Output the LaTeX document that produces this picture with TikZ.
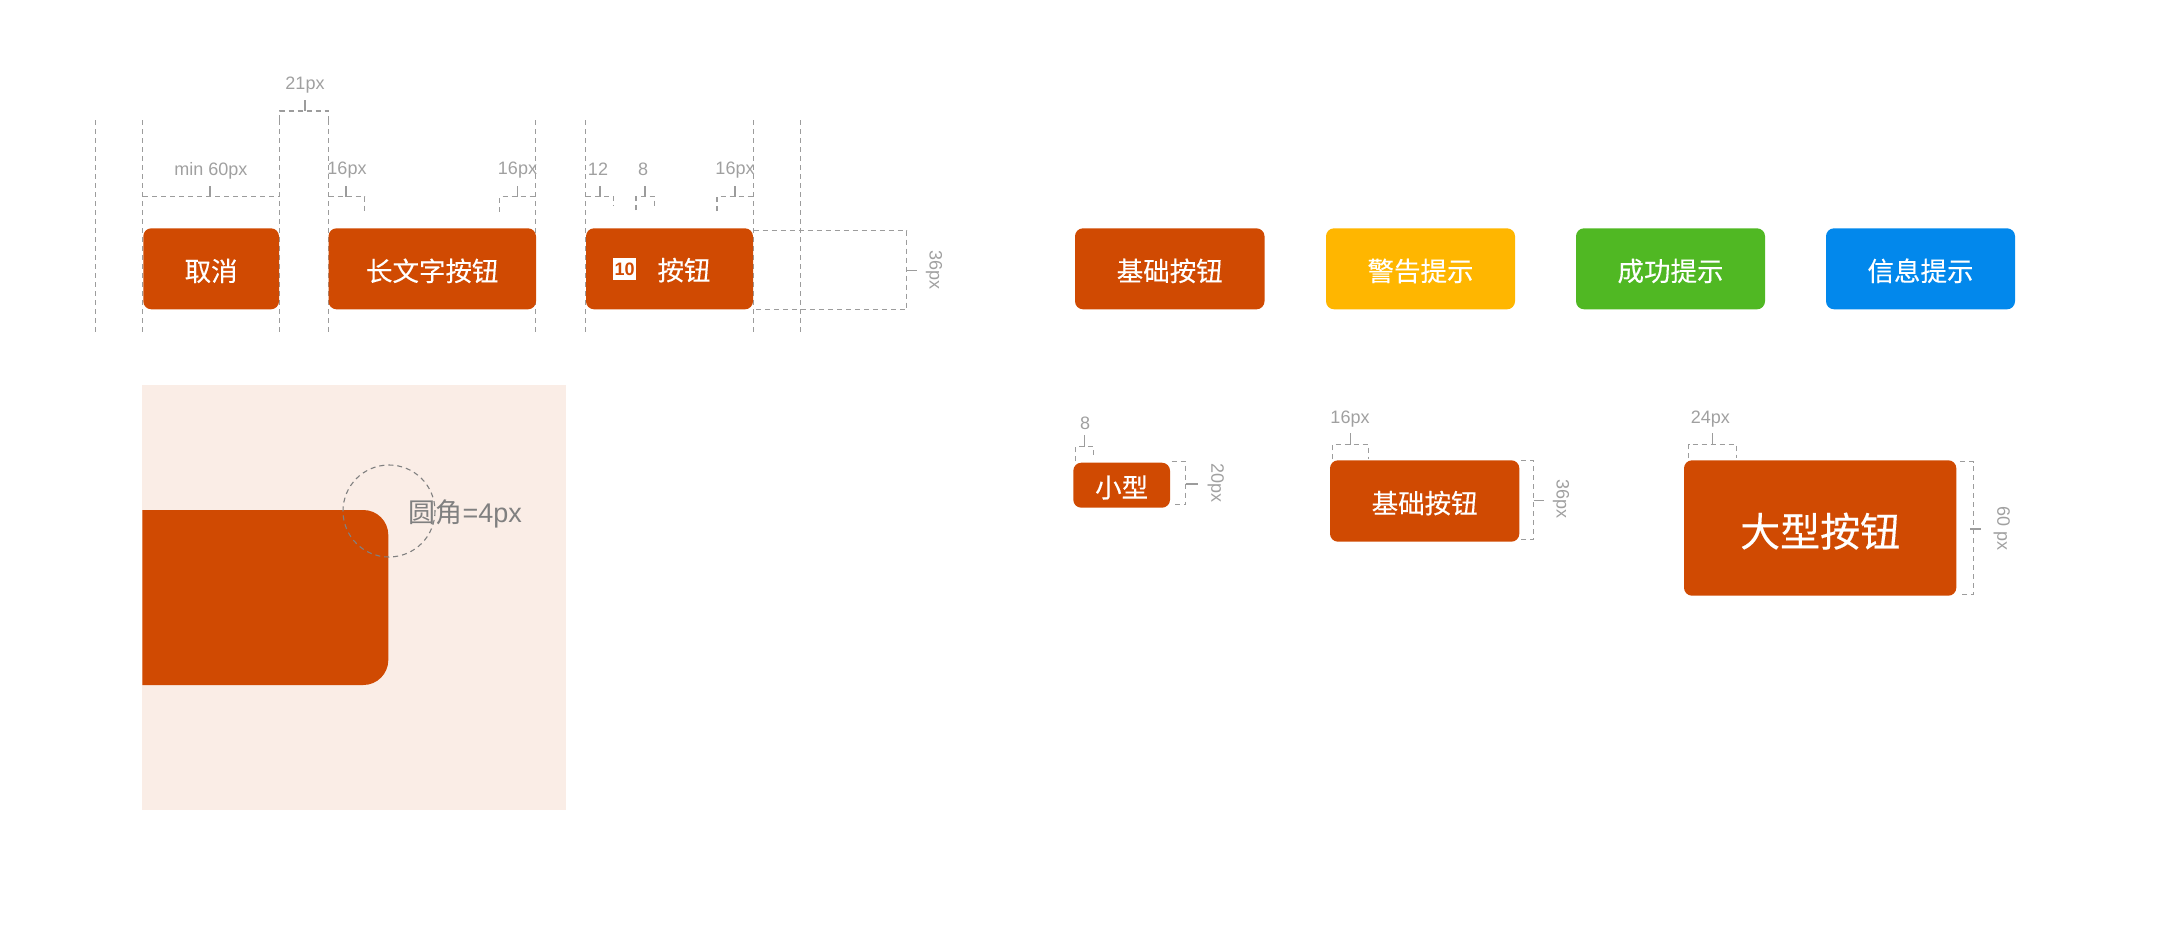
\documentclass[tikz,border=0pt]{standalone}
\usepackage{fontspec}
\setmainfont{Liberation Sans}
\newfontfamily\cjk{Noto Sans CJK SC}
\newfontfamily\cjkb[FakeBold=0.25]{Noto Sans CJK SC}
\definecolor{brand}{HTML}{D04A02}
\definecolor{warnc}{HTML}{FFB600}
\definecolor{okc}{HTML}{50B823}
\definecolor{infoc}{HTML}{0288EC}
\definecolor{panelc}{HTML}{FAEDE6}
\definecolor{dimc}{HTML}{A0A0A0}
\definecolor{guidec}{HTML}{9C9C9C}
\definecolor{notec}{HTML}{808080}
\newcommand{\btntext}[1]{\raisebox{0pt}[0.96em][0.04em]{#1}}
\newcommand{\btnat}[8]{% name x0 y0 x1 y1 colour size text
  \pgfmathsetmacro{\bcx}{(#2+#4)/2}\pgfmathsetmacro{\bcy}{(#3+#5)/2}
  \pgfmathsetmacro{\bw}{#4-#2}\pgfmathsetmacro{\bh}{#5-#3}
  \node[btn,fill=#6,minimum width=\bw pt,minimum height=\bh pt] (#1) at (\bcx,\bcy)
    {\fontsize{#7}{#7}\selectfont\cjkb\btntext{#8}};}
\tikzset{
  btn/.style={rectangle,rounded corners=8pt,inner sep=0pt,text=white,draw=none},
  guide/.style={draw=guidec,line width=1.1pt,dash pattern=on 5pt off 4pt},
  dim/.style={draw=guidec,line width=1.1pt,dash pattern=on 5pt off 4pt},
  tick/.style={draw=guidec,line width=1.1pt},
  dimlabel/.style={text=dimc,inner sep=0pt,font=\fontsize{18}{18}\selectfont},
}
\begin{document}
\begin{tikzpicture}[x=1pt,y=-1pt]
\useasboundingbox (0,0) rectangle (2166,926);
% guides
\foreach \gx in {95.5,142.5,279.5,328.5,535.5,585.5,753.5,800.5}
  \draw[guide] (\gx,120) -- (\gx,332);
% dash brackets, first row
\draw[dim,line width=1.6pt] (279.5,120) -- (279.5,111) -- (328.5,111) -- (328.5,120);
\draw[tick,line width=1.6pt] (305,100) -- (305,111);
\node[dimlabel] (l21) at (305,85.5) {21px};
\draw[dim] (143,196.5) -- (279,196.5);
\draw[tick] (210,186) -- (210,196.5);
\node[dimlabel] (lmin) at (211,170.5) {min 60px};
\draw[dim] (328.5,196.5) -- (364.5,196.5) -- (364.5,211.5);
\draw[tick] (346,186) -- (346,196.5);
\node[dimlabel] (l16a) at (347,170.5) {16px};
\draw[dim] (499.5,211.5) -- (499.5,196.5) -- (535.5,196.5);
\draw[tick] (517.5,186) -- (517.5,196.5);
\node[dimlabel] (l16b) at (517.5,170.5) {16px};
\draw[dim] (586,196.5) -- (613.5,196.5) -- (613.5,206);
\draw[tick] (600,186) -- (600,196.5);
\node[dimlabel] (l12) at (598,169) {12};
\draw[dim] (636,210) -- (636,196.5) -- (654.5,196.5) -- (654.5,206);
\draw[tick] (645,186) -- (645,196.5);
\node[dimlabel] (l8a) at (643,169) {8};
\draw[dim] (717,211) -- (717,196.5) -- (753,196.5);
\draw[tick] (735,186) -- (735,196.5);
\node[dimlabel] (l16c) at (735,170.5) {16px};
\draw[dim] (753.5,230.5) -- (906.5,230.5) -- (906.5,309.5) -- (753.5,309.5);
\draw[tick] (906.5,270.5) -- (916.5,270.5);
\node[dimlabel,rotate=-90] (l36a) at (934,270) {36px};
% first row buttons
\btnat{cancel}{143.3}{228.3}{279}{309.3}{brand}{26.5}{取消}
\btnat{longbtn}{328.5}{228.3}{536}{309.3}{brand}{26.5}{长文字按钮}
\btnat{iconbtn}{586}{228.3}{753}{309.3}{brand}{26}{}
\node[rectangle,fill=white,minimum size=22.5pt,inner sep=0pt,text=brand,font=\fontsize{18}{18}\selectfont\bfseries] (icon) at (624.6,268.9) {10};
\node[text=white,inner sep=0pt,font=\fontsize{26.5}{26.5}\selectfont\cjkb] (icontext) at (684,268) {\btntext{按钮}};
% colour row
\btnat{base}{1075}{228.3}{1264.5}{309.3}{brand}{26.5}{基础按钮}
\btnat{warn}{1326}{228.3}{1515}{309.3}{warnc}{26.5}{警告提示}
\btnat{ok}{1576}{228.3}{1765}{309.3}{okc}{26.5}{成功提示}
\btnat{info}{1826}{228.3}{2015}{309.3}{infoc}{26.5}{信息提示}
% panel
\fill[panelc] (142.3,385.4) rectangle (566,809.5);
\fill[brand] (142.3,510) -- (363.3,510) arc[start angle=-90,end angle=0,radius=25] -- (388.3,660) arc[start angle=0,end angle=90,radius=25] -- (142.3,685) -- cycle;
\draw[draw=notec,line width=1.1pt,dash pattern=on 5pt off 4pt] (389,511) circle[radius=46];
\node[text=notec,inner sep=0pt,anchor=west,font=\fontsize{27}{27}\selectfont] (radius) at (408.3,514) {{\cjk 圆角}=4px};
% size row
\btnat{small}{1073.3}{462.7}{1170}{507.7}{brand}{26.5}{小型}
\draw[dim] (1075.5,461) -- (1075.5,446.5) -- (1093.5,446.5) -- (1093.5,455.5);
\draw[tick] (1084.5,435) -- (1084.5,446.5);
\node[dimlabel] (l8b) at (1085,423.5) {8};
\draw[dim] (1171.5,461.5) -- (1185.5,461.5) -- (1185.5,504.5) -- (1171.5,504.5);
\draw[tick] (1185.5,484) -- (1197.5,484);
\node[dimlabel,rotate=-90] (l20) at (1215.7,482.7) {20px};
\btnat{medium}{1330}{460.3}{1519.3}{541.7}{brand}{26.5}{基础按钮}
\draw[dim] (1332.5,459.3) -- (1332.5,444.5) -- (1368.5,444.5) -- (1368.5,459.3);
\draw[tick] (1350.5,433.3) -- (1350.5,444.5);
\node[dimlabel] (l16d) at (1350,419.5) {16px};
\draw[dim] (1521,460.5) -- (1533.5,460.5) -- (1533.5,539.5) -- (1521,539.5);
\draw[tick] (1533.5,500.5) -- (1544,500.5);
\node[dimlabel,rotate=-90] (l36b) at (1561,498.7) {36px};
\btnat{large}{1684}{460.3}{1956.3}{595.7}{brand}{40}{大型按钮}
\draw[dim] (1688.5,458.3) -- (1688.5,444.5) -- (1736.5,444.5) -- (1736.5,458.3);
\draw[tick] (1712.5,433.3) -- (1712.5,444.5);
\node[dimlabel] (l24) at (1710.3,419.5) {24px};
\draw[dim] (1960,461.5) -- (1973.5,461.5) -- (1973.5,594.5) -- (1962,594.5);
\draw[tick] (1970,529) -- (1981,529);
\node[dimlabel,rotate=-90] (l60) at (2001.7,528.3) {60 px};
\end{tikzpicture}
\end{document}
